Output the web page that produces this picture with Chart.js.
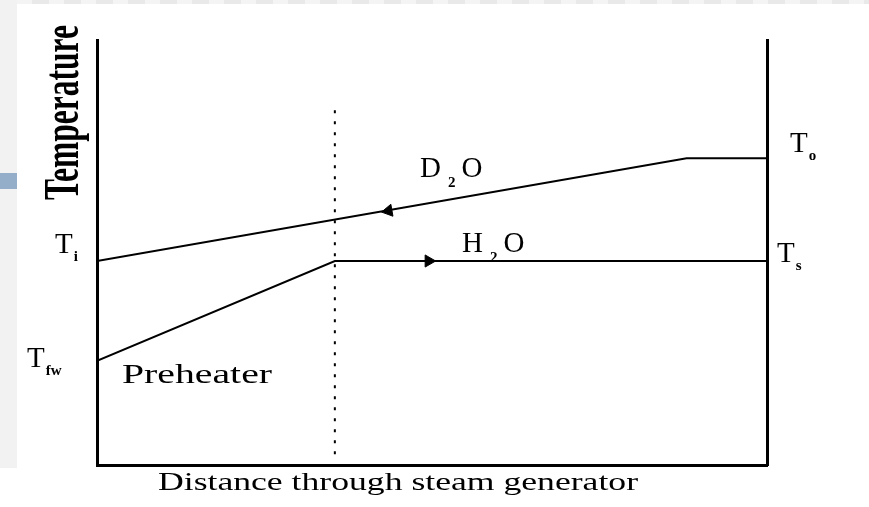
<!DOCTYPE html>
<html>
<head>
<meta charset="utf-8">
<script src="https://cdn.jsdelivr.net/npm/chart.js@4.4.0/dist/chart.umd.min.js"></script>
<style>
    html, body { margin: 0; padding: 0; background: #fff; }
    #wrap { position: relative; width: 869px; height: 507px; overflow: hidden; }
    #topband { position: absolute; left: 0; top: 0; width: 869px; height: 4px;
        background: repeating-linear-gradient(90deg, #e9e9e9 0 17px, #f4f4f4 17px 32px); }
    #leftband { position: absolute; left: 0; top: 0; width: 17px; height: 468px; background: #f2f2f2; }
    #bluebox { position: absolute; left: 0; top: 173px; width: 17px; height: 16px; background: #94adc9; }
    canvas { position: absolute; left: 0; top: 0; }
</style>
</head>
<body>
<div id="wrap">
    <div id="topband"></div>
    <div id="leftband"></div>
    <div id="bluebox"></div>
    <canvas id="lineChart" width="869" height="507"></canvas>
</div>
<script>
// distance through the steam generator (0 = inlet, 100 = outlet), temperature in relative units
var d2oDistance = [0, 88, 100];
var d2oTemp = [48, 72.2, 72.2];
var h2oDistance = [0, 35.5, 100];
var h2oTemp = [24.5, 48, 48];
var preheaterEnd = 35.5;
var dividerTemp = [83.5, 1.5];
var arrowDistance = [43.5, 49.5];   // D2O flows left, H2O flows right
var arrowTemp = [59.8, 48];
var leftSubs = ['i', 'fw'];
var leftTemps = [48, 24.5];
var rightSubs = ['o', 's'];
var rightTemps = [72.2, 48];

var serif = '"Liberation Serif", "Times New Roman", serif';

function toPoints(xs, ys) {
    return xs.map(function (x, i) { return { x: x, y: ys[i] }; });
}

function drawT(ctx, sub, x, base) {
    ctx.font = '29px ' + serif;
    ctx.fillText('T', x, base);
    var w = ctx.measureText('T').width;
    ctx.font = 'bold 15px ' + serif;
    ctx.fillText(sub, x + w + 1, base + 8);
}

function drawFormula(ctx, a, sub, b, x, base) {
    ctx.font = '29px ' + serif;
    ctx.fillText(a, x, base);
    var w = ctx.measureText(a).width;
    ctx.font = 'bold 15px ' + serif;
    ctx.fillText(sub, x + w + 7, base + 10);
    var ws = ctx.measureText(sub).width;
    ctx.font = '29px ' + serif;
    ctx.fillText(b, x + w + ws + 13, base);
}

// stretch text horizontally to a given width
function wideText(ctx, text, font, x, base, width) {
    ctx.save();
    ctx.font = font;
    var w = ctx.measureText(text).width;
    ctx.translate(x, base);
    ctx.scale(width / w, 1);
    ctx.fillText(text, 0, 0);
    ctx.restore();
}

var annotate = {
    id: 'annotate',
    afterDraw: function (chart) {
        var ctx = chart.ctx;
        var y = chart.scales.y;
        ctx.save();
        ctx.fillStyle = '#000';
        ctx.textBaseline = 'alphabetic';

        drawT(ctx, leftSubs[0], 55, y.getPixelForValue(leftTemps[0]) - 8);
        drawT(ctx, leftSubs[1], 27, y.getPixelForValue(leftTemps[1]) + 6);
        drawT(ctx, rightSubs[0], 790, y.getPixelForValue(rightTemps[0]) - 6);
        drawT(ctx, rightSubs[1], 777, y.getPixelForValue(rightTemps[1]) + 1);

        drawFormula(ctx, 'D', '2', 'O', 420, 177);
        drawFormula(ctx, 'H', '2', 'O', 462, 252);

        wideText(ctx, 'Preheater', '27px ' + serif, 122, 383, 150);
        wideText(ctx, 'Distance through steam generator', '26px ' + serif, 158, 490, 480);

        // rotated axis title
        ctx.save();
        ctx.translate(78, 200);
        ctx.rotate(-Math.PI / 2);
        ctx.font = 'bold 50px ' + serif;
        var tw = ctx.measureText('Temperature').width;
        ctx.scale(175 / tw, 1);
        ctx.fillText('Temperature', 0, 0);
        ctx.restore();

        ctx.restore();
    }
};

var axisLine = { display: true, color: '#000', width: 3 };

var ctx = document.getElementById('lineChart').getContext('2d');
var lineChart = new Chart(ctx, {
    type: 'line',
    data: {
        datasets: [{
            label: 'D2O',
            data: toPoints(d2oDistance, d2oTemp),
            borderColor: '#000',
            borderWidth: 2,
            pointRadius: 0,
            tension: 0
        }, {
            label: 'H2O',
            data: toPoints(h2oDistance, h2oTemp),
            borderColor: '#000',
            borderWidth: 2,
            pointRadius: 0,
            tension: 0
        }, {
            label: 'Preheater boundary',
            data: toPoints([preheaterEnd, preheaterEnd], dividerTemp),
            borderColor: '#000',
            borderWidth: 2,
            borderDash: [3, 8],
            pointRadius: 0
        }, {
            label: 'Flow direction',
            data: toPoints(arrowDistance, arrowTemp),
            showLine: false,
            pointStyle: 'triangle',
            pointRotation: [260, 90],
            pointRadius: 7,
            pointBackgroundColor: '#000',
            pointBorderColor: '#000'
        }]
    },
    options: {
        responsive: false,
        animation: false,
        layout: { padding: { left: 97, right: 102, top: 40, bottom: 42 } },
        plugins: {
            legend: { display: false },
            tooltip: { enabled: false }
        },
        scales: {
            x: {
                type: 'linear', min: 0, max: 100,
                grid: { display: false, drawTicks: false },
                ticks: { display: false },
                border: axisLine
            },
            y: {
                min: 0, max: 100,
                grid: { display: false, drawTicks: false },
                ticks: { display: false },
                border: axisLine
            },
            y2: {
                position: 'right', min: 0, max: 100,
                grid: { display: false, drawTicks: false },
                ticks: { display: false },
                border: axisLine
            }
        }
    },
    plugins: [annotate]
});
</script>
</body>
</html>
